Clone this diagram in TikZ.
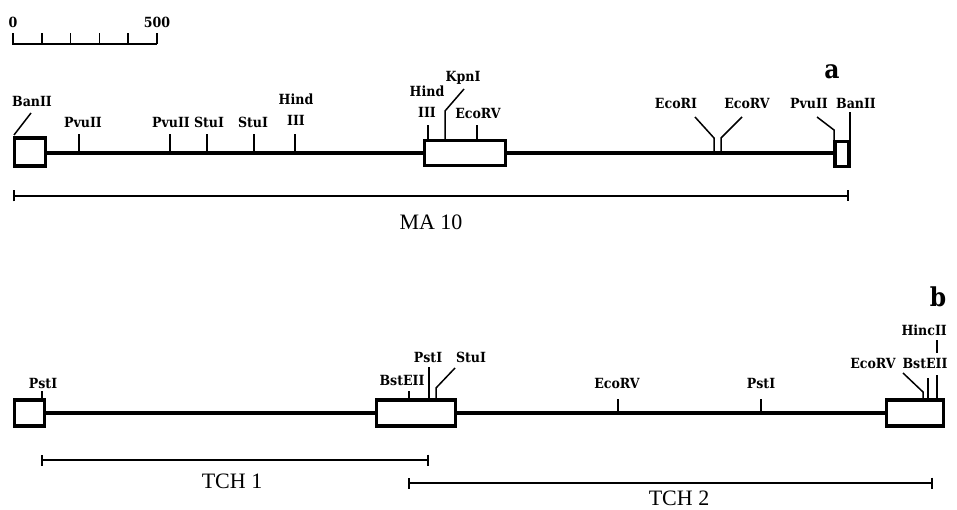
\documentclass[tikz,border=0pt]{standalone}
\usepackage{fontspec}
\setmainfont{Liberation Serif}
\newfontfamily\sitefont{DejaVu Serif Condensed}
\usetikzlibrary{arrows.meta,positioning}

\begin{document}
\begin{tikzpicture}[
    x=1pt, y=-1pt,
    dna/.style={line width=3.6pt},
    exon/.style={draw, line width=3.4pt, fill=white, inner sep=0pt},
    cut/.style={line width=1.5pt},
    enz/.style={font=\sitefont\bfseries\fontsize{14}{21}\selectfont, inner sep=0pt, align=center},
    clone/.style={line width=1.8pt, {Bar[width=11pt]}-{Bar[width=11pt]}},
    clonename/.style={font=\fontsize{22}{24}\selectfont, inner sep=0pt},
    panel/.style={font=\sitefont\bfseries\fontsize{26}{28}\selectfont, inner sep=0pt}
]
    \useasboundingbox (0,0) rectangle (957,510);

    % scale bar
    \draw[line width=2.2pt] (12,44) -- (157,44);
    \foreach \i in {0,...,5}
        \draw[line width=1.5pt] (13+\i*28.8,44) -- ++(0,-11);
    \node[enz] (s0) at (13,22) {0};
    \node[enz] (s500) at (157,22) {500};

    % clone a
    \node[exon, minimum width=31pt, minimum height=28pt] (a1) at (30,152) {};
    \node[exon, minimum width=81pt, minimum height=25pt] (a2) at (465,153) {};
    \node[exon, minimum width=14pt, minimum height=25pt] (a3) at (842,154) {};
    \draw[dna] (a1.east |- 0,153) -- (a2.west) (a2.east) -- (a3.west |- 0,153);
    \node[panel] (pa) at (832,72) {a};

    \node[enz] (banA1) at (32,101) {BanII};
    \draw[cut] (14,135) -- (31,113);
    \node[enz] (pvuA1) at (83,122) {PvuII};
    \draw[cut] (79,153) -- (79,134);
    \node[enz] (pvuA2) at (171,122) {PvuII};
    \draw[cut] (170,153) -- (170,134);
    \node[enz] (stuA1) at (209,122) {StuI};
    \draw[cut] (207,153) -- (207,134);
    \node[enz] (stuA2) at (253,122) {StuI};
    \draw[cut] (254,153) -- (254,134);
    \node[enz] (hinA1) at (296,110) {Hind\\III};
    \draw[cut] (295,153) -- (295,134);

    \node[enz] (hinA2) at (427,102) {Hind\\III};
    \draw[cut] (428,140) -- (428,125);
    \node[enz] (kpnA) at (463,78) {KpnI};
    \draw[cut] (445,140) -- (445,111) -- (464,89);
    \node[enz] (ecvA1) at (478,113) {EcoRV};
    \draw[cut] (477,140) -- (477,125);

    \node[enz] (ecrA) at (676,103) {EcoRI};
    \draw[cut] (714,153) -- (714,138) -- (695,117);
    \node[enz] (ecvA2) at (747,103) {EcoRV};
    \draw[cut] (721,153) -- (721,138) -- (742,117);
    \node[enz] (pvuA3) at (809,103) {PvuII};
    \draw[cut] (834,141) -- (834,130) -- (817,117);
    \node[enz] (banA2) at (856,103) {BanII};
    \draw[cut] (850,141) -- (850,112);

    \coordinate (maL) at (13,196);
    \coordinate (maR) at (849,196);
    \draw[clone] (maL) -- (maR);
    \node[clonename] (ma) at (431,222) {MA 10};

    % clone b
    \node[exon, minimum width=30pt, minimum height=26pt] (b1) at (29.5,413) {};
    \node[exon, minimum width=79pt, minimum height=26pt] (b2) at (416,413) {};
    \node[exon, minimum width=57pt, minimum height=26pt] (b3) at (915,413) {};
    \draw[dna] (b1.east) -- (b2.west) (b2.east) -- (b3.west);
    \node[panel] (pb) at (938,297) {b};

    \node[enz] (pstB1) at (43,383) {PstI};
    \draw[cut] (42,400) -- (42,391);
    \node[enz] (bstB1) at (402,380) {BstEII};
    \draw[cut] (409,400) -- (409,391);
    \node[enz] (pstB2) at (428,357) {PstI};
    \draw[cut] (429,400) -- (429,367);
    \node[enz] (stuB) at (471,357) {StuI};
    \draw[cut] (436,400) -- (436,388) -- (455,368);

    \node[enz] (ecvB1) at (617,383) {EcoRV};
    \draw[cut] (618,413) -- (618,399);
    \node[enz] (pstB3) at (761,383) {PstI};
    \draw[cut] (761,413) -- (761,399);

    \node[enz] (ecvB2) at (873,363) {EcoRV};
    \draw[cut] (923,400) -- (923,392) -- (903,373);
    \node[enz] (bstB2) at (925,363) {BstEII};
    \draw[cut] (928,400) -- (928,378);
    \node[enz, anchor=east] (hncB) at (947,330) {HincII};
    \draw[cut] (937,400) -- (937,375) (937,353) -- (937,340);

    \coordinate (t1L) at (41,460);
    \coordinate (t1R) at (429,460);
    \draw[clone] (t1L) -- (t1R);
    \node[clonename] (tch1) at (232,481) {TCH 1};
    \coordinate (t2L) at (408,483);
    \coordinate (t2R) at (933,483);
    \draw[clone] (t2L) -- (t2R);
    \node[clonename] (tch2) at (679,498) {TCH 2};
\end{tikzpicture}
\end{document}
